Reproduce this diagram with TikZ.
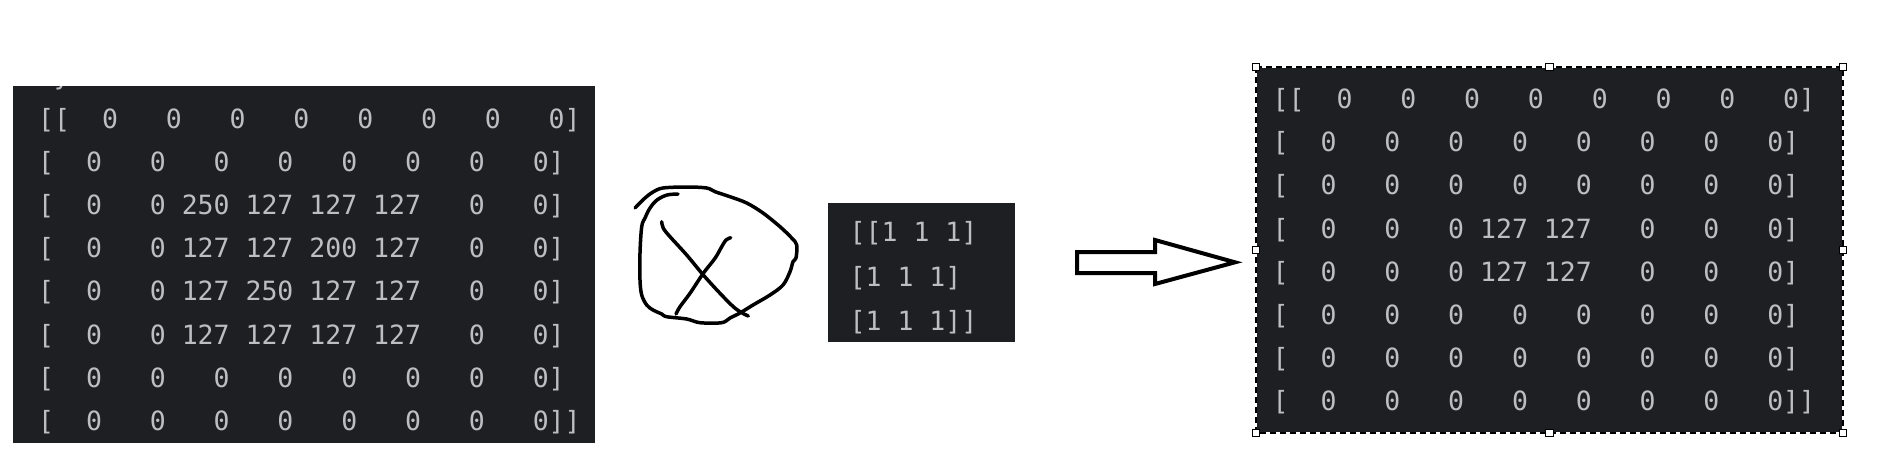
\documentclass[tikz,border=0pt]{standalone}
\usepackage{fontspec}
\newfontfamily\codefont{DejaVu Sans Mono}
\definecolor{codebg}{HTML}{1E1F22}
\definecolor{codefg}{HTML}{BCBEC4}
\begin{document}
\begin{tikzpicture}[x=1pt,y=-1pt,
  panel/.style={fill=codebg,draw=none},
  code/.style={anchor=base west,inner sep=0pt,text=codefg,font=\codefont\fontsize{26.5}{30}\selectfont},
  handle/.style={draw=black,fill=white,line width=1.2pt,minimum size=7.5pt,inner sep=0pt},
  ink/.style={line width=3.5pt,line cap=round,line join=round,black},
  blockarrow/.style={draw=black,fill=white,line width=4pt,line join=miter}]
\useasboundingbox (0,0) rectangle (1883,464);
\fill[white] (0,0) rectangle (1883,464);
% ---------- input matrix ----------
\path[panel] (13,86) rectangle (595,443);
\begin{scope}
\clip (13,86) rectangle (595,443);
\node[code] (cut) at (38,84.8) {~y};
\end{scope}
\node[code] (a1) at (38,128.0) {[[~~0~~~0~~~0~~~0~~~0~~~0~~~0~~~0]};
\node[code] (a2) at (38,171.2) {[~~0~~~0~~~0~~~0~~~0~~~0~~~0~~~0]};
\node[code] (a3) at (38,214.4) {[~~0~~~0~250~127~127~127~~~0~~~0]};
\node[code] (a4) at (38,257.6) {[~~0~~~0~127~127~200~127~~~0~~~0]};
\node[code] (a5) at (38,300.8) {[~~0~~~0~127~250~127~127~~~0~~~0]};
\node[code] (a6) at (38,344.0) {[~~0~~~0~127~127~127~127~~~0~~~0]};
\node[code] (a7) at (38,387.2) {[~~0~~~0~~~0~~~0~~~0~~~0~~~0~~~0]};
\node[code] (a8) at (38,430.4) {[~~0~~~0~~~0~~~0~~~0~~~0~~~0~~~0]]};
% ---------- hand-drawn operator ----------
\draw[ink] plot[smooth,tension=0.55] coordinates {
 (678,194) (667,195) (657,200) (650,208) (645,218) (641.7,226.7) (640,253) (640,280)
 (641.7,295) (646.7,305) (653,310) (661.7,314) (666.7,316.7) (686.7,319) (700,322.7)
 (721.7,322.7) (730,318) (740,313) (753,305) (770,295) (783,285) (790,271.7)
 (793,261.7) (796,258) (796.7,245) (791.7,238) (780,226.7) (763,213) (746.7,203)
 (730,196.7) (715,191.7) (706.7,188) (686.7,187) (663,188) (653,192) (645,198) (635,208)};
\draw[ink] plot[smooth,tension=0.55] coordinates {
 (661.7,221.7) (663.3,228.3) (670,236.7) (686.7,255) (703.3,275) (720,293.3)
 (733.3,306.7) (741.7,312.7) (748.3,316)};
\draw[ink] plot[smooth,tension=0.55] coordinates {
 (730.7,237.7) (726,240) (721.7,246.7) (715,258.3) (703.3,273.3) (690,293.3)
 (680,306.7) (676,314)};
% ---------- kernel ----------
\path[panel] (828,203) rectangle (1015,342);
\node[code] (k1) at (849.5,241.7) {[[1~1~1]};
\node[code] (k2) at (849.5,286.0) {[1~1~1]};
\node[code] (k3) at (849.5,330.3) {[1~1~1]]};
% ---------- block arrow ----------
\draw[blockarrow] (1077,252) -- (1155,252) -- (1155,240) -- (1235,262.3)
  -- (1155,284) -- (1155,273) -- (1077,273) -- cycle;
% ---------- output matrix ----------
\path[panel] (1256,67) rectangle (1843,433);
\node[code] (b1) at (1272.5,108.7) {[[~~0~~~0~~~0~~~0~~~0~~~0~~~0~~~0]};
\node[code] (b2) at (1272.5,151.8) {[~~0~~~0~~~0~~~0~~~0~~~0~~~0~~~0]};
\node[code] (b3) at (1272.5,194.9) {[~~0~~~0~~~0~~~0~~~0~~~0~~~0~~~0]};
\node[code] (b4) at (1272.5,238.0) {[~~0~~~0~~~0~127~127~~~0~~~0~~~0]};
\node[code] (b5) at (1272.5,281.1) {[~~0~~~0~~~0~127~127~~~0~~~0~~~0]};
\node[code] (b6) at (1272.5,324.2) {[~~0~~~0~~~0~~~0~~~0~~~0~~~0~~~0]};
\node[code] (b7) at (1272.5,367.3) {[~~0~~~0~~~0~~~0~~~0~~~0~~~0~~~0]};
\node[code] (b8) at (1272.5,410.4) {[~~0~~~0~~~0~~~0~~~0~~~0~~~0~~~0]]};
% selection frame
\draw[white,line width=1.6pt] (1256,67) rectangle (1843,433);
\draw[black,line width=1.6pt,dash pattern=on 6pt off 4pt] (1256,67) rectangle (1843,433);
\foreach \hx/\hy [count=\i] in {1256/67,1549.5/67,1843/67,1256/250,1843/250,1256/433,1549.5/433,1843/433}
  \node[handle] (h\i) at (\hx,\hy) {};
\end{tikzpicture}
\end{document}
